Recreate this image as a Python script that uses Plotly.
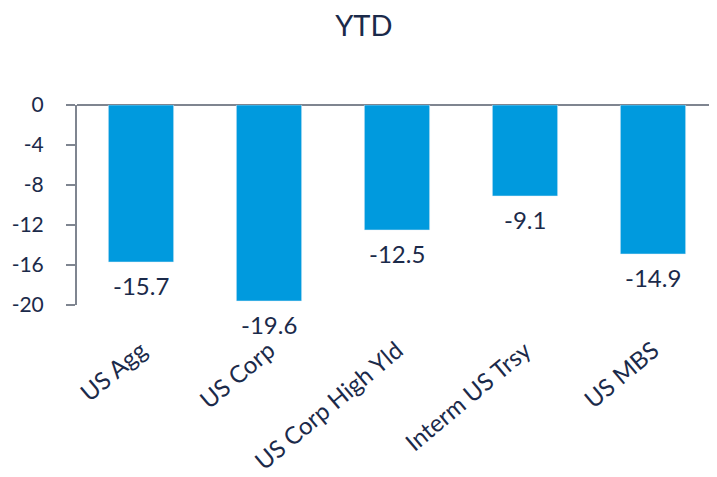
import plotly.graph_objects as go

categories = ["US Agg", "US Corp", "US Corp High Yld", "Interm US Trsy", "US MBS"]
values = [-15.7, -19.6, -12.5, -9.1, -14.9]
y_ticks = [0, -4, -8, -12, -16, -20]

navy = "#1b2a4a"
axis_grey = "#7f8590"
font_family = "Lato"

fig = go.Figure(
    go.Bar(
        x=categories,
        y=values,
        marker_color="#009ADE",
        cliponaxis=False,
    )
)

for c, v in zip(categories, values):
    fig.add_annotation(
        x=c, y=v, text=f"{v:.1f}", showarrow=False,
        xanchor="center", yanchor="top", yshift=-7,
        font=dict(size=24, color=navy, family=font_family),
    )

# page body has an 8px default margin, so the figure is sized to fit the window
fig.update_layout(
    width=709,
    height=469,
    paper_bgcolor="white",
    plot_bgcolor="white",
    margin=dict(l=69, r=0, t=97, b=172, autoexpand=False),
    bargap=0.49,
    showlegend=False,
    font=dict(family=font_family, color=navy, size=22),
    title=dict(text="YTD", x=0.502, xanchor="center", y=0.962, yanchor="middle",
               font=dict(size=29, color=navy, family=font_family)),
)

fig.update_xaxes(
    tickangle=-40,
    showline=False,
    ticks="",
    showgrid=False,
    zeroline=False,
    automargin=False,
    tickfont=dict(size=24, color=navy),
    ticklabelstandoff=26,
)

fig.update_yaxes(
    range=[-20, 0],
    tickvals=y_ticks,
    ticktext=[str(t) for t in y_ticks],
    showline=True,
    linecolor=axis_grey,
    linewidth=2,
    ticks="outside",
    ticklen=9,
    tickwidth=2,
    tickcolor=axis_grey,
    showgrid=False,
    zeroline=True,
    zerolinecolor=axis_grey,
    zerolinewidth=2,
    automargin=False,
    tickfont=dict(size=21, color=navy),
    ticklabelstandoff=18,
)

fig.write_html("out.html")
